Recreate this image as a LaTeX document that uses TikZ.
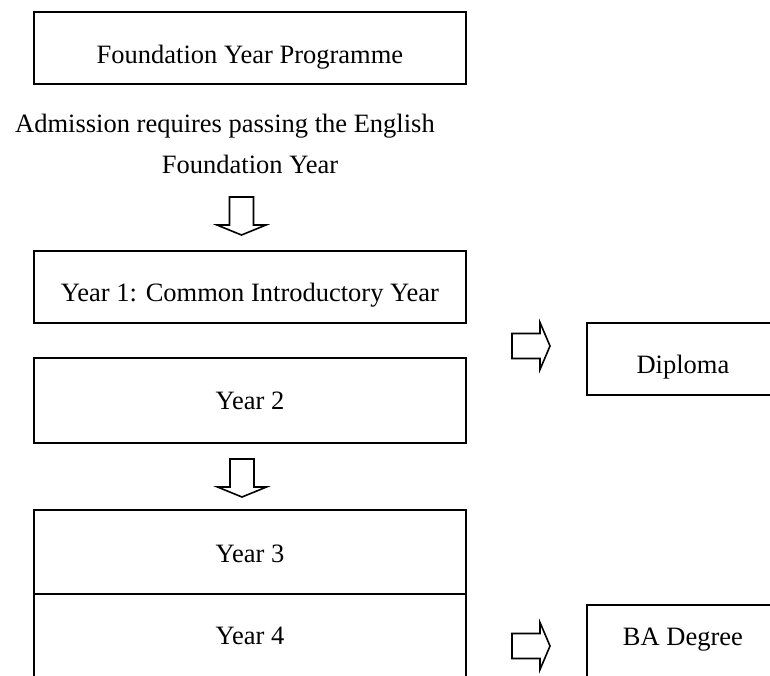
\documentclass[tikz,border=0pt]{standalone}
\usepackage{fontspec}
\setmainfont{Liberation Serif}
\begin{document}
\begin{tikzpicture}[x=1pt,y=-1pt,
  every node/.style={font=\fontsize{26.5}{32}\selectfont, inner sep=0pt},
  box/.style={draw, line width=1.9pt, rectangle, anchor=north west},
  blk/.style={draw, line width=1.6pt, fill=white, line join=miter},
  pics/darr/.style={code={\draw[blk] (-12,-38) -- (12,-38) -- (12,-10) -- (24.5,-10) -- (0,0) -- (-24.5,-10) -- (-12,-10) -- cycle;}},
  pics/rarr/.style={code={\draw[blk] (-38,-12.5) -- (-10,-12.5) -- (-10,-23.5) -- (0,0) -- (-10,23.5) -- (-10,12.5) -- (-38,12.5) -- cycle;}}
]
\useasboundingbox (0,0) rectangle (770,675);
\clip (0,0) rectangle (770,675);
\fill[white] (0,0) rectangle (770,675);

\node[box, minimum width=432pt, text height=52pt, text depth=20pt] (found) at (33,11) {Foundation Year Programme};
\node[anchor=base west] (adm) at (15,132.5) {Admission requires passing the English};
\node[anchor=base] (fy) at (250,173) {Foundation Year};

\coordinate (t1) at (241.5,235);
\pic at (t1) {darr};

\node[box, minimum width=432pt, text height=51pt, text depth=21pt] (y1) at (33,250) {Year 1: Common Introductory Year};
\node[box, minimum width=432pt, text height=52pt, text depth=33pt] (y2) at (33,357) {Year 2};

\coordinate (t2) at (242,497);
\pic at (t2) {darr};

\node[box, minimum width=432pt, text height=53pt, text depth=31pt] (y3) at (33,509) {Year 3};
\node[box, minimum width=432pt, text height=51pt, text depth=46pt] (y4) at (33,593) {Year 4};

\coordinate (t3) at (550,346);
\pic at (t3) {rarr};
\node[box, minimum width=192pt, text height=51pt, text depth=21pt] (dip) at (586,322) {Diploma};

\coordinate (t4) at (550,646);
\pic at (t4) {rarr};
\node[box, minimum width=192pt, text height=41pt, text depth=50pt] (ba) at (586,604) {BA Degree};
\end{tikzpicture}
\end{document}
